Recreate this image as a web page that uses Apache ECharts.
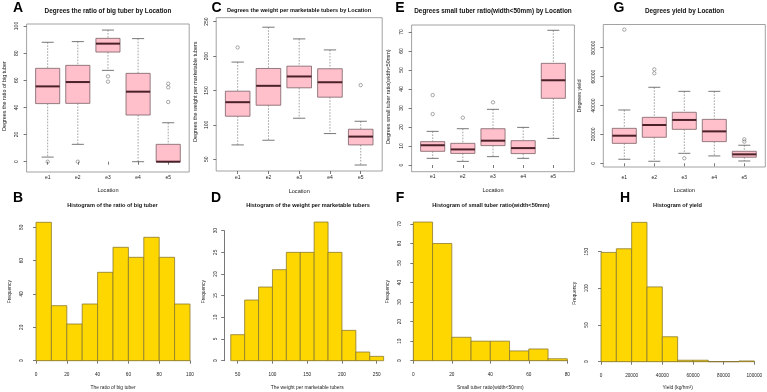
<!DOCTYPE html>
<html><head><meta charset="utf-8">
<script src="https://cdn.jsdelivr.net/npm/echarts@6/dist/echarts.min.js"></script>
<style>html,body{margin:0;padding:0;background:#fff}#c{width:767px;height:392px}</style>
</head><body><div id="c"></div>
<script>
// ---------------- data ----------------
const locations = ['e1', 'e2', 'e3', 'e4', 'e5'];

// boxplot stats per location: [lower whisker, Q1, median, Q3, upper whisker]
const ratioBigBox = [
  [3.4, 42.8, 55.5, 68.8, 88.0],
  [12.8, 43.0, 58.7, 71.0, 88.5],
  [67.3, 80.8, 87.0, 90.9, 97.0],
  [0.0, 34.4, 51.6, 65.1, 90.7],
  [0.0, 0.0, 0.0, 12.8, 28.7]
];
const ratioBigOut = [[0, 0], [1, 0], [2, 62.9], [2, 59.0], [4, 44.0], [4, 54.8], [4, 57.5]];
const ratioBigBoxTicks = [0, 20, 40, 60, 80, 100];

const weightBox = [
  [70.9, 112.6, 133.0, 149.0, 191.3],
  [77.7, 128.6, 156.8, 182.0, 242.0],
  [109.7, 153.9, 170.4, 185.4, 225.0],
  [87.4, 140.3, 162.0, 181.6, 209.0],
  [41.7, 70.9, 83.0, 93.7, 105.3]
];
const weightOut = [[0, 212.6], [4, 157.8]];
const weightBoxTicks = [50, 100, 150, 200, 250];

const smallBox = [
  [3.5, 7.2, 10.4, 12.3, 17.7],
  [1.9, 6.1, 8.2, 11.4, 19.1],
  [4.4, 10.2, 12.8, 19.1, 29.3],
  [3.5, 6.0, 8.9, 12.8, 19.8],
  [14.0, 35.1, 44.6, 53.5, 70.9]
];
const smallOut = [[0, 36.8], [0, 26.8], [1, 24.9], [2, 33.0]];
const smallBoxTicks = [0, 10, 20, 30, 40, 50, 60, 70];

const yieldBox = [
  [2800, 13800, 19100, 24200, 36900],
  [1400, 18000, 26500, 31800, 52600],
  [6900, 23500, 30000, 35300, 49800],
  [5100, 15000, 22100, 30400, 49800],
  [1600, 4200, 6200, 8300, 12500]
];
const yieldOut = [[0, 92500], [1, 65000], [1, 62300], [2, 3500], [4, 16600], [4, 15000]];
const yieldBoxTicks = [0, 20000, 40000, 60000, 80000];

// histograms: bin edges and counts
const ratioBigEdges = [0, 10, 20, 30, 40, 50, 60, 70, 80, 90, 100];
const ratioBigCounts = [83, 33, 22, 34, 53, 68, 62, 74, 62, 34];
const ratioBigXTicks = [0, 20, 40, 60, 80, 100];
const ratioBigYTicks = [0, 20, 40, 60, 80];

const weightEdges = [40, 60, 80, 100, 120, 140, 160, 180, 200, 220, 240, 260];
const weightCounts = [6, 14, 17, 21, 25, 25, 32, 25, 7, 2, 1];
const weightXTicks = [50, 100, 150, 200, 250];
const weightYTicks = [0, 5, 10, 15, 20, 25, 30];

const smallEdges = [0, 10, 20, 30, 40, 50, 60, 70, 80];
const smallCounts = [71, 60, 12, 10, 10, 5, 6, 1];
const smallXTicks = [0, 20, 40, 60, 80];
const smallYTicks = [0, 10, 20, 30, 40, 50, 60, 70];

const yieldEdges = [0, 10000, 20000, 30000, 40000, 50000, 60000, 70000, 80000, 90000, 100000];
const yieldCounts = [149, 154, 190, 102, 34, 2, 2, 0, 0, 1];
const yieldXTicks = [0, 20000, 40000, 60000, 80000, 100000];
const yieldYTicks = [0, 50, 100, 150];

// ---------------- layout / style ----------------
const FONT = '"Liberation Sans", Arial, Helvetica, sans-serif';
const AX = '#555';
const TXT = '#222';

const boxPanels = [
  {letter: 'A', lx: 18, title: 'Degrees the ratio of big tuber by Location', tx: 108, ty: 11.7, tfs: 6.4,
   ylab: 'Degrees the ratio of big tuber', nx: 5, ny: 96,
   box: ratioBigBox, out: ratioBigOut, ticks: ratioBigBoxTicks,
   data: {l: 32.6, t: 26, w: 150.7, h: 135.7}, frame: {l: 26.6, t: 24, w: 162.6, h: 148},
   yOff: 6, xOff: 10.3, xMargin: 3, xNameGap: 15.9},
  {letter: 'C', lx: 216.5, title: 'Degrees the weight per marketable tubers by Location', tx: 299, ty: 10, tfs: 5.6,
   ylab: 'Degrees the weight per marketable tubers', nx: 196, ny: 91.7,
   box: weightBox, out: weightOut, ticks: weightBoxTicks,
   data: {l: 222.3, t: 21.7, w: 153.8, h: 137.6}, frame: {l: 216.2, t: 17.7, w: 166, h: 153.3},
   yOff: 6.1, xOff: 11.7, xMargin: 4.4, xNameGap: 17.9},
  {letter: 'E', lx: 400, title: 'Degrees small tuber ratio(width<50mm) by Location', tx: 493, ty: 11.7, tfs: 6.4,
   ylab: 'Degrees small tuber ratio(width<50mm)', nx: 388.3, ny: 96.7,
   box: smallBox, out: smallOut, ticks: smallBoxTicks,
   data: {l: 417.6, t: 32, w: 150.8, h: 133}, frame: {l: 411.6, t: 25, w: 162.8, h: 146.7},
   yOff: 6, xOff: 6.7, xMargin: 2.8, xNameGap: 16.2},
  {letter: 'G', lx: 619, title: 'Degrees yield by Location', tx: 684.5, ty: 11.7, tfs: 6.4,
   ylab: 'Degrees yield', nx: 580, ny: 96,
   box: yieldBox, out: yieldOut, ticks: yieldBoxTicks,
   data: {l: 609.3, t: 47.7, w: 150, h: 115.6}, frame: {l: 603.3, t: 24.5, w: 162, h: 142.5},
   yOff: 6, xOff: 3.7, xMargin: 8.2, xNameGap: 20.9}
];

const histPanels = [
  {letter: 'B', lx: 18, title: 'Histogram of the ratio of big tuber', tx: 112.5, ty: 205,
   xlab: 'The ratio of big tuber', nx: 10, ny: 291.7,
   edges: ratioBigEdges, counts: ratioBigCounts, xt: ratioBigXTicks, yt: ratioBigYTicks,
   data: {l: 36, t: 227.3, w: 154, h: 133.4}, yOff: 6, xOff: 6, xNameGap: 18.1},
  {letter: 'D', lx: 216, title: 'Histogram of the weight per marketable tubers', tx: 308, ty: 205,
   xlab: 'The weight per marketable tubers', nx: 203.3, ny: 291.7,
   edges: weightEdges, counts: weightCounts, xt: weightXTicks, yt: weightYTicks,
   data: {l: 237.7, t: 230.7, w: 139, h: 130}, yOff: 13.5, xOff: 5.8, xNameGap: 18.3},
  {letter: 'F', lx: 400, title: 'Histogram of small tuber ratio(width<50mm)', tx: 491, ty: 205,
   xlab: 'Small tuber ratio(width<50mm)', nx: 387.3, ny: 291.7,
   edges: smallEdges, counts: smallCounts, xt: smallXTicks, yt: smallYTicks,
   data: {l: 413.3, t: 224, w: 154, h: 136.7}, yOff: 6, xOff: 5.8, xNameGap: 18.3},
  {letter: 'H', lx: 625, title: 'Histogram of yield', tx: 677.5, ty: 205,
   xlab: 'Yield (kg/hm²)', nx: 575, ny: 293.3,
   edges: yieldEdges, counts: yieldCounts, xt: yieldXTicks, yt: yieldYTicks,
   data: {l: 601, t: 251.7, w: 153.3, h: 110}, yOff: 6, xOff: 5.8, xNameGap: 17.7}
];

// ---------------- renderers ----------------
function renderBox(params, api) {
  const i = api.value(0);
  const lo = api.coord([i, api.value(1)]);
  const q1 = api.coord([i, api.value(2)]);
  const md = api.coord([i, api.value(3)]);
  const q3 = api.coord([i, api.value(4)]);
  const hi = api.coord([i, api.value(5)]);
  const band = api.size([1, 0])[0];
  const bw = band * 0.8, cw = bw * 0.5, cx = md[0];
  const dash = {stroke: '#8a8a8a', lineWidth: 0.8, lineDash: [1.6, 1.4]};
  const solid = {stroke: '#555', lineWidth: 0.8};
  return {type: 'group', children: [
    {type: 'line', shape: {x1: cx, y1: hi[1], x2: cx, y2: q3[1]}, style: dash},
    {type: 'line', shape: {x1: cx, y1: q1[1], x2: cx, y2: lo[1]}, style: dash},
    {type: 'line', shape: {x1: cx - cw / 2, y1: hi[1], x2: cx + cw / 2, y2: hi[1]}, style: solid},
    {type: 'line', shape: {x1: cx - cw / 2, y1: lo[1], x2: cx + cw / 2, y2: lo[1]}, style: solid},
    {type: 'rect', shape: {x: cx - bw / 2, y: q3[1], width: bw, height: q1[1] - q3[1]},
     style: {fill: '#FFC0CB', stroke: '#7a5f66', lineWidth: 0.8}},
    {type: 'line', shape: {x1: cx - bw / 2, y1: md[1], x2: cx + bw / 2, y2: md[1]},
     style: {stroke: '#4a2029', lineWidth: 2}}
  ]};
}
function renderHist(params, api) {
  const a = api.coord([api.value(0), 0]);
  const b = api.coord([api.value(1), api.value(2)]);
  return {type: 'rect', shape: {x: a[0], y: b[1], width: b[0] - a[0], height: a[1] - b[1]},
    style: {fill: '#FFD700', stroke: '#8c7a2e', lineWidth: 0.8}};
}

// ---------------- build option ----------------
const grids = [], xAxes = [], yAxes = [], series = [], titles = [], graphics = [];
function addGrid(r, extra) {
  grids.push(Object.assign({left: r.l, top: r.t, width: r.w, height: r.h, containLabel: false, outerBoundsMode: 'none'}, extra || {}));
  return grids.length - 1;
}
const plain = v => String(v);
function tickStyle() { return {show: true, length: 3, lineStyle: {color: AX, width: 0.8}}; }
function yName(text, x, y, fs) {
  graphics.push({type: 'text', x: x, y: y, rotation: Math.PI / 2, silent: true,
    style: {text: text, fontSize: fs, fontFamily: FONT, fill: TXT, align: 'center', verticalAlign: 'middle'}});
}
function letter(text, x, y) {
  graphics.push({type: 'text', x: x, y: y, silent: true,
    style: {text: text, fontSize: 14, fontWeight: 'bold', fontFamily: FONT, fill: '#000', align: 'center', verticalAlign: 'middle'}});
}
function title(text, x, y, fs) {
  titles.push({text: text, left: x, top: y, textAlign: 'center', textVerticalAlign: 'middle', padding: 0,
    textStyle: {fontSize: fs, fontWeight: 'bold', fontFamily: FONT, color: '#111'}});
}

boxPanels.forEach(p => {
  const fi = addGrid(p.frame, {show: true, borderColor: '#8a8a8a', borderWidth: 0.8, backgroundColor: 'rgba(0,0,0,0)'});
  xAxes.push({gridIndex: fi, type: 'value', show: false, min: 0, max: 1});
  yAxes.push({gridIndex: fi, type: 'value', show: false, min: 0, max: 1});
  const di = addGrid(p.data);
  const xi = xAxes.length, yi = yAxes.length;
  xAxes.push({gridIndex: di, type: 'category', data: locations, boundaryGap: true, offset: p.xOff,
    axisLine: {show: false}, axisTick: Object.assign(tickStyle(), {alignWithLabel: true, interval: 0}),
    axisLabel: {interval: 0, fontSize: 5, color: TXT, fontFamily: FONT, margin: p.xMargin},
    splitLine: {show: false},
    name: 'Location', nameLocation: 'middle', nameGap: p.xNameGap,
    nameTextStyle: {fontSize: 5.6, color: TXT, fontFamily: FONT}});
  yAxes.push({gridIndex: di, type: 'value', min: p.ticks[0], max: p.ticks[p.ticks.length - 1],
    interval: p.ticks[1] - p.ticks[0], offset: p.yOff,
    axisLine: {show: false}, axisTick: tickStyle(),
    axisLabel: {rotate: 90, fontSize: 5, color: TXT, fontFamily: FONT, margin: 7, formatter: plain},
    splitLine: {show: false}});
  series.push({type: 'custom', xAxisIndex: xi, yAxisIndex: yi, clip: false, silent: true,
    renderItem: renderBox, encode: {x: 0, y: [1, 2, 3, 4, 5]},
    data: p.box.map((d, i) => [i].concat(d))});
  series.push({type: 'scatter', xAxisIndex: xi, yAxisIndex: yi, clip: false, silent: true,
    symbol: 'circle', symbolSize: 3.4,
    itemStyle: {color: 'rgba(0,0,0,0)', borderColor: '#666', borderWidth: 0.7},
    data: p.out});
  title(p.title, p.tx, p.ty, p.tfs);
  yName(p.ylab, p.nx, p.ny, 5.4);
  letter(p.letter, p.lx, 7.7);
});

histPanels.forEach(p => {
  const di = addGrid(p.data);
  const xi = xAxes.length, yi = yAxes.length;
  xAxes.push({gridIndex: di, type: 'value', min: p.xt[0], max: p.xt[p.xt.length - 1],
    interval: p.xt[1] - p.xt[0], offset: p.xOff,
    axisLine: {show: true, lineStyle: {color: AX, width: 0.8}}, axisTick: tickStyle(),
    axisLabel: {fontSize: 4.7, color: TXT, fontFamily: FONT, margin: 5.5, formatter: plain},
    splitLine: {show: false},
    name: p.xlab, nameLocation: 'middle', nameGap: p.xNameGap,
    nameTextStyle: {fontSize: 4.9, color: TXT, fontFamily: FONT}});
  yAxes.push({gridIndex: di, type: 'value', min: p.yt[0], max: p.yt[p.yt.length - 1],
    interval: p.yt[1] - p.yt[0], offset: p.yOff,
    axisLine: {show: true, lineStyle: {color: AX, width: 0.8}}, axisTick: tickStyle(),
    axisLabel: {rotate: 90, fontSize: 4.7, color: TXT, fontFamily: FONT, margin: 5.5, formatter: plain},
    splitLine: {show: false}});
  series.push({type: 'custom', xAxisIndex: xi, yAxisIndex: yi, clip: false, silent: true,
    renderItem: renderHist, encode: {x: [0, 1], y: 2},
    data: p.counts.map((c, k) => [p.edges[k], p.edges[k + 1], c])});
  title(p.title, p.tx, p.ty, 5.6);
  yName('Frequency', p.nx, p.ny, 4.9);
  letter(p.letter, p.lx, 198);
});

const chart = echarts.init(document.getElementById('c'), null, {renderer: 'canvas'});
chart.setOption({
  animation: false,
  backgroundColor: '#fff',
  title: titles,
  grid: grids,
  xAxis: xAxes,
  yAxis: yAxes,
  series: series,
  graphic: graphics
});
</script>
</body></html>
